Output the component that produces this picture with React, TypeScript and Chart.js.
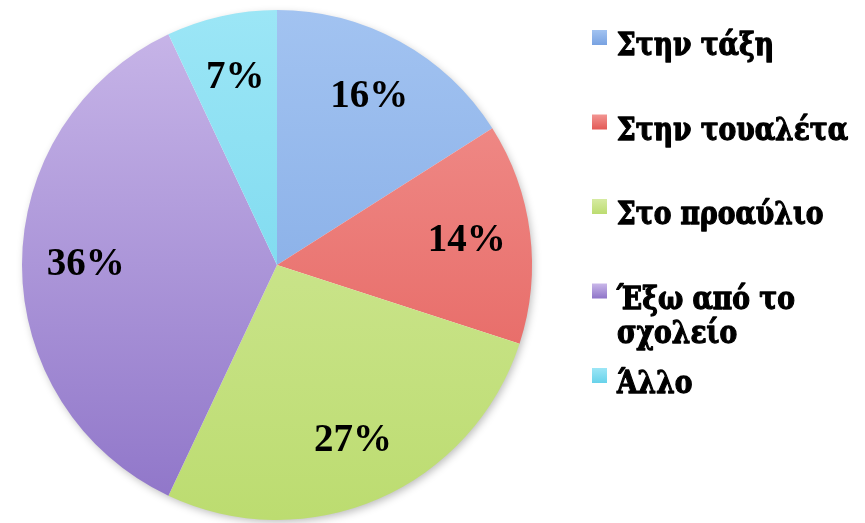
import React, { useEffect, useRef } from "react";
import { Chart, registerables } from "chart.js";

Chart.register(...registerables);

const categories = ["Στην τάξη", "Στην τουαλέτα", "Στο προαύλιο", "Έξω από το σχολείο", "Άλλο"];
const legendLines = [["Στην τάξη"], ["Στην τουαλέτα"], ["Στο προαύλιο"], ["Έξω από το", "σχολείο"], ["Άλλο"]];
const values = [16, 14, 27, 36, 7];
const topColors = ["#A2C3F1", "#F29592", "#D6EBA2", "#C9B7E9", "#9CE6F6"];
const bottomColors = ["#78A2E1", "#E35A56", "#BCDC70", "#8E74C8", "#68D2EA"];
const midColors = ["#8EB4EA", "#EC7F7C", "#CAE58C", "#AE9BDA", "#84DCF0"];

const FONT = '"Liberation Serif", "DejaVu Serif", serif';
const LEGEND_FONT = '"DejaVu Serif", serif';

const shadowPlugin = {
  id: "pieShadow",
  beforeDatasetsDraw(chart: any) {
    const arc = chart.getDatasetMeta(0).data[0];
    if (!arc) return;
    const { ctx } = chart;
    ctx.save();
    ctx.shadowColor = "rgba(0,0,0,0.28)";
    ctx.shadowBlur = 8;
    ctx.shadowOffsetX = 2;
    ctx.shadowOffsetY = 3;
    ctx.fillStyle = "#ffffff";
    ctx.beginPath();
    ctx.arc(arc.x, arc.y, arc.outerRadius - 1, 0, Math.PI * 2);
    ctx.fill();
    ctx.restore();
  },
};

const labelPlugin = {
  id: "pieLabels",
  afterDatasetsDraw(chart: any) {
    const { ctx } = chart;
    const meta = chart.getDatasetMeta(0);
    const data = chart.data.datasets[0].data as number[];
    const total = data.reduce((a, b) => a + b, 0);
    ctx.save();
    ctx.font = `bold 39px ${FONT}`;
    ctx.fillStyle = "#000000";
    ctx.textAlign = "center";
    ctx.textBaseline = "middle";
    meta.data.forEach((arc: any, i: number) => {
      const mid = (arc.startAngle + arc.endAngle) / 2;
      const r = arc.outerRadius * 0.75;
      const x = arc.x + Math.cos(mid) * r;
      const y = arc.y + Math.sin(mid) * r;
      ctx.fillText(`${Math.round((data[i] / total) * 100)}%`, x, y);
    });
    ctx.restore();
  },
};

const legendPlugin = {
  id: "customLegend",
  afterDraw(chart: any) {
    const { ctx } = chart;
    ctx.save();
    ctx.font = `bold 32px ${LEGEND_FONT}`;
    ctx.textAlign = "left";
    ctx.textBaseline = "alphabetic";
    ctx.strokeStyle = "#000000";
    ctx.lineWidth = 1.3;
    ctx.lineJoin = "round";
    const x0 = chart.chartArea.right + 60;
    legendLines.forEach((lines, i) => {
      const baseline = 55 + i * 84.5;
      const g = ctx.createLinearGradient(0, baseline - 25, 0, baseline - 10);
      g.addColorStop(0, topColors[i]);
      g.addColorStop(1, bottomColors[i]);
      ctx.fillStyle = g;
      ctx.fillRect(x0, baseline - 25, 15, 15);
      ctx.fillStyle = "#000000";
      lines.forEach((t, j) => {
        ctx.save();
        ctx.translate(x0 + 25, baseline + j * 34);
        ctx.scale(0.83, 1);
        ctx.fillText(t, 0, 0);
        ctx.strokeText(t, 0, 0);
        ctx.restore();
      });
    });
    ctx.restore();
  },
};

export default function App() {
  const ref = useRef<HTMLCanvasElement | null>(null);
  useEffect(() => {
    if (!ref.current) return;
    const chart = new Chart(ref.current, {
      type: "pie",
      data: {
        labels: categories,
        datasets: [
          {
            data: values,
            backgroundColor: (c: any) => {
              const i = c.dataIndex ?? 0;
              const area = c.chart.chartArea;
              if (!area) return midColors[i];
              const g = c.chart.ctx.createLinearGradient(0, area.top, 0, area.bottom);
              g.addColorStop(0, topColors[i]);
              g.addColorStop(1, bottomColors[i]);
              return g;
            },
            borderWidth: 0,
          },
        ],
      },
      options: {
        animation: false,
        responsive: true,
        maintainAspectRatio: false,
        layout: { padding: { left: 22, right: 333, top: 10, bottom: 3 } },
        plugins: {
          legend: { display: false },
          tooltip: { enabled: false },
        },
      },
      plugins: [shadowPlugin, labelPlugin, legendPlugin],
    });
    return () => chart.destroy();
  }, []);
  return (
    <div style={{ position: "fixed", left: 0, top: 0, width: 865, height: 523, background: "#ffffff" }}>
      <canvas ref={ref} />
    </div>
  );
}
